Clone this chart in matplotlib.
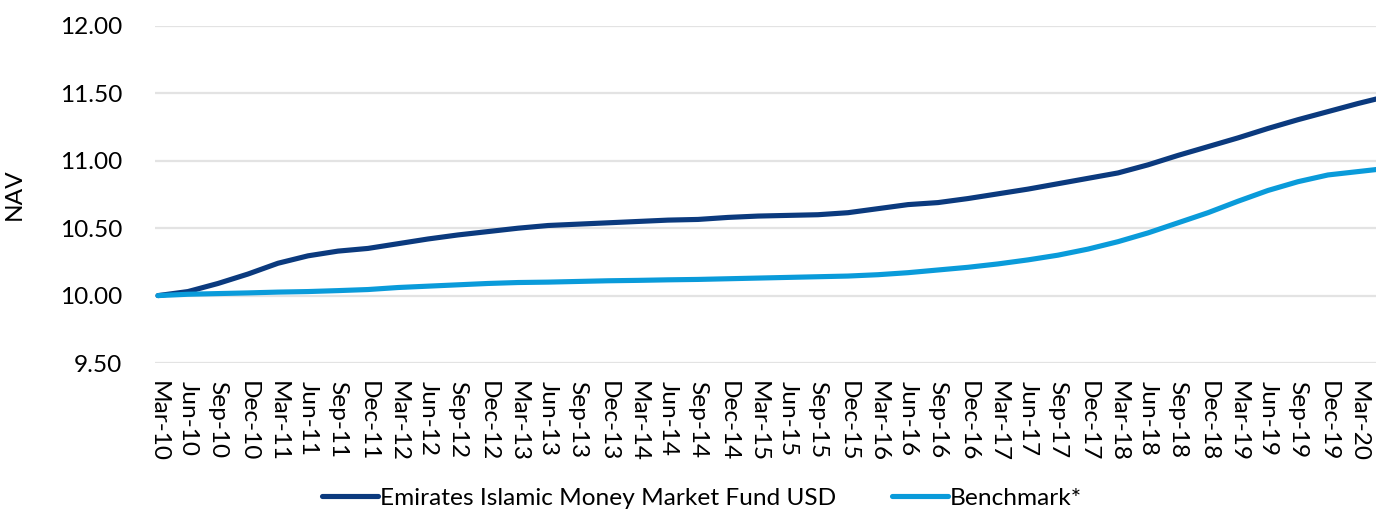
import matplotlib
matplotlib.use("Agg")
import matplotlib.pyplot as plt

plt.rcParams['font.family'] = ['Lato', 'DejaVu Sans']

quarters = ["Mar-10", "Jun-10", "Sep-10", "Dec-10", "Mar-11", "Jun-11", "Sep-11", "Dec-11",
            "Mar-12", "Jun-12", "Sep-12", "Dec-12", "Mar-13", "Jun-13", "Sep-13", "Dec-13",
            "Mar-14", "Jun-14", "Sep-14", "Dec-14", "Mar-15", "Jun-15", "Sep-15", "Dec-15",
            "Mar-16", "Jun-16", "Sep-16", "Dec-16", "Mar-17", "Jun-17", "Sep-17", "Dec-17",
            "Mar-18", "Jun-18", "Sep-18", "Dec-18", "Mar-19", "Jun-19", "Sep-19", "Dec-19",
            "Mar-20", "Jun-20"]

fund = [10.00, 10.03, 10.09, 10.16, 10.24, 10.295, 10.33, 10.35,
        10.385, 10.42, 10.45, 10.475, 10.50, 10.52, 10.53, 10.54,
        10.55, 10.56, 10.565, 10.58, 10.59, 10.595, 10.60, 10.615,
        10.645, 10.675, 10.69, 10.72, 10.755, 10.79, 10.83, 10.87,
        10.91, 10.97, 11.04, 11.105, 11.17, 11.24, 11.305, 11.365,
        11.425, 11.48]

benchmark = [10.00, 10.01, 10.015, 10.02, 10.026, 10.03, 10.037, 10.045,
             10.06, 10.07, 10.08, 10.09, 10.097, 10.10, 10.105, 10.11,
             10.113, 10.117, 10.12, 10.125, 10.13, 10.135, 10.14, 10.145,
             10.155, 10.17, 10.19, 10.21, 10.235, 10.265, 10.30, 10.345,
             10.40, 10.465, 10.54, 10.615, 10.70, 10.78, 10.845, 10.895,
             10.92, 10.945]

fig = plt.figure(figsize=(13.76, 5.12), dpi=100)
ax = fig.add_axes([155/1376, 1 - 363/512, 1 - 155/1376, (363 - 26)/512])

x = list(range(len(quarters)))
ax.plot(x, fund, color="#0B3A7E", lw=3.7, solid_capstyle="round",
        label="Emirates Islamic Money Market Fund USD")
ax.plot(x, benchmark, color="#0A9BDA", lw=3.7, solid_capstyle="round",
        label="Benchmark*")

ax.set_ylim(9.5, 12.0)
ax.set_yticks([9.5, 10.0, 10.5, 11.0, 11.5, 12.0])
ax.set_yticklabels(["%.2f" % v for v in ax.get_yticks()])
ax.set_xlim(-0.1, 40.6)
ax.set_xticks(x[:-1])
ax.set_xticklabels(quarters[:-1], rotation=-90, va="top", ha="center")

ax.grid(axis="y", color="#E3E3E3", lw=1.6)
ax.set_axisbelow(True)
for s in ax.spines.values():
    s.set_visible(False)
ax.tick_params(axis="both", length=0, labelsize=17.6, colors="black")
ax.tick_params(axis="y", pad=23.5)
ax.tick_params(axis="x", pad=13)

ax.set_ylabel("NAV", fontsize=17.6)
ax.yaxis.set_label_coords(-130/1221, 0.5)

fig.legend(loc="center", bbox_to_anchor=(702/1376, 1 - 498/512), ncol=2,
           frameon=False, fontsize=17.6, handlelength=2.3, handletextpad=0.08,
           columnspacing=2.25)

fig.savefig("out.png", dpi=100)
